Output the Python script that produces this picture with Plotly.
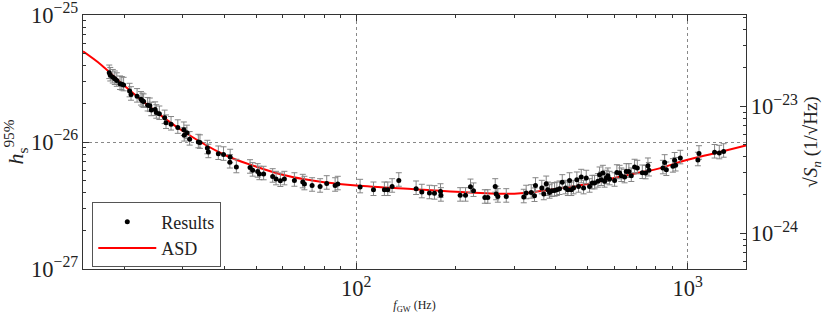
import math
import plotly.graph_objects as go

# ---------------- data ----------------
results_freq = [18.0, 18.13, 18.45, 18.71, 18.97, 19.40, 19.64, 19.89, 20.73, 20.94,
                21.84, 22.44, 22.65, 22.85, 23.50, 23.86, 24.11, 24.76, 24.96, 25.49,
                26.45, 26.70, 27.65, 28.98, 30.22, 30.30, 30.86, 31.46, 33.42, 33.80,
                35.58, 35.83, 38.40, 39.81, 41.69, 41.60, 43.52, 47.86, 48.74, 50.47,
                51.07, 52.60, 56.01, 57.34, 59.08, 60.75, 65.14, 69.02, 69.82, 73.65,
                77.86, 81.53, 86.43, 88.04, 102.8, 112.8, 121.7, 124.6, 128.4, 134.5,
                151.7, 157.8, 166.4, 172.3, 179.7, 180.2, 206.0, 213.8, 221.3, 226.0,
                244.5, 249.6, 262.8, 264.6, 267.6, 283.7, 320.4, 325.8, 337.4, 345.2,
                347.6, 363.2, 368.3, 374.5, 378.7, 383.2, 389.4, 396.8, 403.2, 410.8,
                418.6, 428.3, 435.2, 440.4, 445.6, 452.8, 463.3, 468.8, 477.6, 485.4,
                494.5, 506.0, 515.6, 524.0, 536.2, 542.5, 548.9, 555.0, 561.6, 568.3,
                574.6, 581.5, 602.1, 611.8, 623.4, 630.8, 645.4, 653.1, 665.0, 676.2,
                691.8, 705.0, 730.0, 746.9, 759.0, 764.3, 842.3, 852.5, 862.6, 902.9,
                913.7, 920.0, 950.6, 1074, 1082, 1206, 1246, 1284]

# upper limits h_s^95% in units of 1e-27
results_h_e27 = [35.1, 33.6, 32.4, 31.5, 30.5, 28.8, 28.5, 28.1, 25.2, 23.7,
                 22.9, 21.7, 21.1, 20.8, 19.5, 19.3, 17.9, 18.0, 17.1, 16.7,
                 15.5, 14.2, 13.8, 13.0, 12.5, 11.3, 11.8, 10.5, 10.0, 9.9,
                 8.97, 8.36, 8.09, 7.97, 7.62, 6.93, 6.36, 6.31, 5.98, 5.87,
                 5.61, 5.60, 5.36, 5.11, 4.96, 5.11, 4.98, 4.84, 4.67, 4.55,
                 4.47, 4.72, 4.55, 4.67, 4.42, 4.21, 4.21, 4.21, 4.47, 4.98,
                 4.29, 4.04, 3.97, 3.94, 4.08, 3.80, 3.80, 3.80, 4.44, 4.14,
                 3.66, 3.66, 4.47, 3.90, 3.73, 3.73, 3.69, 3.97, 4.01, 3.78,
                 4.55, 4.34, 3.90, 4.69, 4.21, 4.01, 4.14, 4.16, 4.21, 4.29,
                 4.81, 4.34, 4.21, 4.98, 4.21, 4.34, 5.05, 4.47, 5.30, 4.34,
                 5.21, 4.47, 4.75, 4.75, 4.90, 5.53, 5.05, 5.70, 4.90, 5.21,
                 5.43, 5.11, 4.98, 5.76, 5.70, 5.43, 5.30, 5.87, 5.87, 5.43,
                 6.36, 6.24, 5.73, 5.70, 6.51, 6.00, 6.24, 6.91, 6.05, 6.43,
                 7.19, 6.57, 7.48, 7.22, 8.13, 8.31, 8.19, 8.43]

# relative error-bar extents (upper / lower)
err_up_frac = 0.15
err_lo_frac = 0.10

asd_freq = [15, 17, 20, 25, 30, 40, 50, 60, 70, 80, 100, 150, 200, 300, 400,
            500, 600, 700, 800, 1000, 1200, 1500]
asd_h_e27 = [51.7, 40.6, 27.7, 17.2, 12.2, 7.94, 6.39, 5.53, 5.09, 4.83, 4.55,
             4.25, 4.06, 3.92, 4.27, 4.67, 5.21, 5.68, 6.09, 7.25, 8.13, 9.4]

x_range_hz = [15, 1500]
y_range_left = [1e-27, 1e-25]
y_range_right = [10 ** -24.282, 10 ** -22.282]

# ---------------- figure ----------------
results_h = [v * 1e-27 for v in results_h_e27]
asd_h = [v * 1e-27 for v in asd_h_e27]
err_up = [v * err_up_frac for v in results_h]
err_lo = [v * err_lo_frac for v in results_h]

FONT = "Liberation Serif"
AX = "#333333"

fig = go.Figure()
fig.add_trace(go.Scatter(
    x=asd_freq, y=asd_h, mode="lines", name="ASD",
    line=dict(color="#ff0000", width=2, shape="spline", smoothing=1.0),
))
fig.add_trace(go.Scatter(
    x=results_freq, y=results_h, mode="markers", name="Results",
    marker=dict(color="black", size=5),
    error_y=dict(type="data", symmetric=False, array=err_up, arrayminus=err_lo,
                 color="#858585", thickness=1, width=3),
))
# helper trace so the right-hand axis is rendered
fig.add_trace(go.Scatter(
    x=[x_range_hz[0]], y=[y_range_right[0]], yaxis="y2", mode="lines",
    showlegend=False, hoverinfo="skip", line=dict(color="rgba(0,0,0,0)"),
))

fig.update_layout(
    width=830, height=317,
    margin=dict(l=83, r=84, t=15, b=48, autoexpand=False),
    paper_bgcolor="white", plot_bgcolor="white",
    font=dict(family=FONT, color="#222222", size=17),
    showlegend=True,
    legend=dict(
        x=0.014, y=0.262, xanchor="left", yanchor="top",
        bordercolor="#555555", borderwidth=1, bgcolor="white",
        traceorder="reversed", font=dict(family=FONT, size=18, color="#222"),
        itemwidth=58, tracegroupgap=0,
    ),
    xaxis=dict(
        type="log", range=[math.log10(x_range_hz[0]), math.log10(x_range_hz[1])],
        dtick=1, exponentformat="power", automargin=False,
        showline=True, linecolor=AX, linewidth=1.3, mirror="ticks",
        ticks="inside", ticklen=6, tickcolor=AX,
        showgrid=True, gridcolor="#888888", griddash="dot", gridwidth=1,
        minor=dict(ticks="inside", ticklen=3, tickcolor=AX, dtick="D1", showgrid=False),
        tickfont=dict(family=FONT, size=18), ticklabeloverflow="allow",
        title=dict(text="<i>f</i><sub>GW</sub> (Hz)", font=dict(family=FONT, size=12),
                   standoff=0),
        zeroline=False,
    ),
    yaxis=dict(
        type="log", range=[math.log10(y_range_left[0]), math.log10(y_range_left[1])],
        dtick=1, exponentformat="power", automargin=False,
        showline=True, linecolor=AX, linewidth=1.3,
        ticks="inside", ticklen=6, tickcolor=AX,
        showgrid=True, gridcolor="#888888", griddash="dot", gridwidth=1,
        minor=dict(ticks="inside", ticklen=3, tickcolor=AX, dtick="D1", showgrid=False),
        tickfont=dict(family=FONT, size=18), ticklabeloverflow="allow",
        title=dict(text="<i>h</i><sub>s</sub><sup>95%</sup>", font=dict(family=FONT, size=22),
                   standoff=2),
        zeroline=False,
    ),
    yaxis2=dict(
        type="log", overlaying="y", side="right",
        range=[math.log10(y_range_right[0]), math.log10(y_range_right[1])],
        dtick=1, exponentformat="power", automargin=False,
        showline=True, linecolor=AX, linewidth=1.3,
        ticks="inside", ticklen=6, tickcolor=AX, showgrid=False,
        minor=dict(ticks="inside", ticklen=3, tickcolor=AX, dtick="D1", showgrid=False),
        tickfont=dict(family=FONT, size=18), ticklabeloverflow="allow",
        title=dict(text="√<i>S</i><sub><i>n</i></sub> (1/√Hz)", font=dict(family=FONT, size=19),
                   standoff=6),
        zeroline=False,
    ),
)

fig.write_html("out.html", config={"displayModeBar": False},
               post_script="document.body.style.margin='0';document.body.style.overflow='hidden';")
